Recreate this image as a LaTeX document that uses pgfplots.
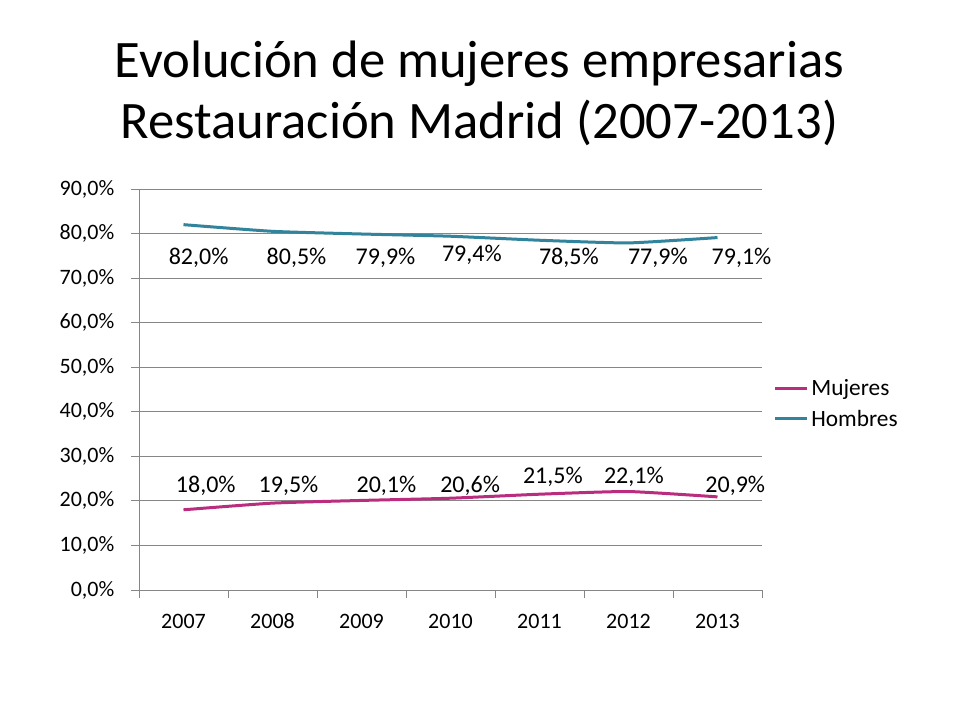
\documentclass[border=0pt]{standalone}
\usepackage{pgfplots}
\pgfplotsset{compat=1.18}
\usepackage{fontspec}
\setmainfont{Carlito}
\definecolor{muj}{HTML}{BA2D7E}
\definecolor{hom}{HTML}{31849B}
\definecolor{gridc}{HTML}{868686}
\begin{document}
\begin{tikzpicture}
\useasboundingbox[fill=white] (0,0) rectangle (720pt,540pt);
\node[font=\fontsize{39.5}{48}\selectfont] at (359.5pt,492.5pt) {Evolución de mujeres empresarias};
\node[font=\fontsize{39.5}{48}\selectfont] at (359.5pt,447.5pt) {Restauración Madrid (2007-2013)};
\begin{axis}[
  at={(104.25pt,97.5pt)}, anchor=south west,
  scale only axis, width=467.25pt, height=300.75pt,
  xmin=-0.5, xmax=6.5, ymin=0, ymax=90,
  clip=false,
  axis x line*=bottom, axis y line*=left,
  axis line style={gridc, line width=0.6pt},
  xtick={0,...,6},
  xticklabels={2007,2008,2009,2010,2011,2012,2013},
  major x tick style={draw=none},
  minor xtick={-0.5,0.5,...,6.5},
  minor x tick style={gridc, line width=0.6pt},
  minor tick length=6pt,
  ytick={0,10,...,90},
  yticklabels={{0,0\%},{10,0\%},{20,0\%},{30,0\%},{40,0\%},{50,0\%},{60,0\%},{70,0\%},{80,0\%},{90,0\%}},
  major y tick style={gridc, line width=0.6pt},
  major tick length=6pt,
  tick align=outside,
  ymajorgrids, grid style={gridc, line width=0.6pt},
  ticklabel style={font=\fontsize{16.5}{19}\selectfont},
  xticklabel style={text height=12pt, text depth=0pt, yshift=-7pt},
  yticklabel style={xshift=-9pt},
  legend style={draw=none, fill=none, at={(1.012,0.464)}, anchor=west,
    font=\fontsize{17.5}{20}\selectfont, row sep=5pt},
  legend cell align=left,
  legend image code/.code={\draw[#1, line width=2.25pt] (0pt,0pt) -- (24pt,0pt);},
]
\addplot[muj, line width=2.25pt, smooth, tension=0.3, mark=none] coordinates {
(0,18.0) (1,19.5) (2,20.1) (3,20.6) (4,21.5) (5,22.1) (6,20.9)};
\addlegendentry{Mujeres}
\addplot[hom, line width=2.25pt, smooth, tension=0.3, mark=none] coordinates {
(0,82.0) (1,80.5) (2,79.9) (3,79.4) (4,78.5) (5,77.9) (6,79.1)};
\addlegendentry{Hombres}
\begin{scope}[every node/.style={font=\fontsize{18}{21}\selectfont}]
\node at (axis cs:0.17,74.5) {82,0\%};
\node at (axis cs:1.27,74.5) {80,5\%};
\node at (axis cs:2.27,74.5) {79,9\%};
\node at (axis cs:3.24,75.2) {79,4\%};
\node at (axis cs:4.33,74.5) {78,5\%};
\node at (axis cs:5.33,74.5) {77,9\%};
\node at (axis cs:6.27,74.5) {79,1\%};
\node at (axis cs:0.25,23.3) {18,0\%};
\node at (axis cs:1.18,23.3) {19,5\%};
\node at (axis cs:2.28,23.3) {20,1\%};
\node at (axis cs:3.22,23.3) {20,6\%};
\node at (axis cs:4.15,25.4) {21,5\%};
\node at (axis cs:5.06,25.4) {22,1\%};
\node at (axis cs:6.20,23.3) {20,9\%};
\end{scope}
\end{axis}
\end{tikzpicture}
\end{document}
